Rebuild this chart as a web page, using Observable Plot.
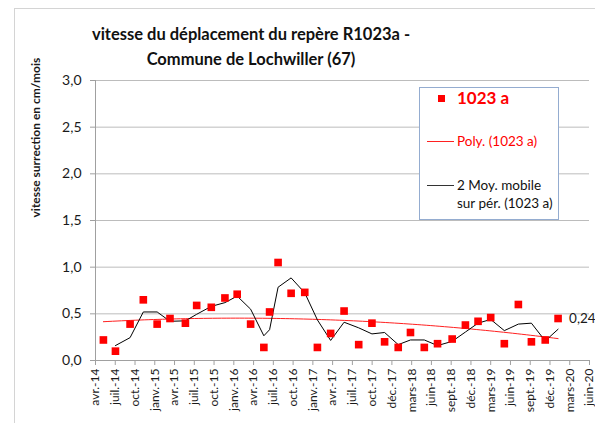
<!DOCTYPE html>
<html>
<head>
<meta charset="utf-8">
<script src="https://cdn.jsdelivr.net/npm/d3@7"></script>
<script src="https://cdn.jsdelivr.net/npm/@observablehq/plot@0.6"></script>
<style>
  html, body { margin: 0; padding: 0; background: #fff; }
  #wrap { position: relative; width: 595px; height: 423px; overflow: hidden; font-family: Lato, "Open Sans", sans-serif; }
  #frame { position: absolute; left: 14px; top: 8px; width: 640px; height: 460px; border: 1px solid #d4d4d4; }
  #chart { position: absolute; left: 0; top: 0; }
  #title { position: absolute; left: 51px; width: 400px; top: 22px; text-align: center; font-weight: bold; font-size: 16.5px; line-height: 25px; color: #111; }
  #legend { position: absolute; left: 419px; top: 87px; width: 138px; height: 131px; border: 1px solid #94acd0; background: #fff; }
  .lg { position: absolute; white-space: nowrap; }
</style>
</head>
<body>
<div id="wrap">
  <div id="frame"></div>
  <div id="chart"></div>
  <div id="title">vitesse du déplacement du repère R1023a -<br>Commune de Lochwiller (67)</div>
  <div id="legend"></div>
</div>
<script>
// Tick labels of the x axis (one per quarter-step tick)
const tickLabels = ["avr.-14","juil.-14","oct.-14","janv.-15","avr.-15","juil.-15","oct.-15","janv.-16","avr.-16","juil.-16","oct.-16","janv.-17","avr.-17","juil.-17","oct.-17","déc.-17","mars-18","juin-18","sept.-18","déc.-18","mars-19","juin-19","sept.-19","déc.-19","mars-20","juin-20"];
// Measurement positions, in tick steps from "avr.-14"
const measureT = [0.40,1.01,1.75,2.42,3.12,3.77,4.55,5.12,5.86,6.55,7.17,7.85,8.52,8.81,9.24,9.90,10.59,11.23,11.90,12.58,13.32,13.99,14.63,15.32,15.94,16.64,17.31,18.05,18.72,19.36,20.00,20.69,21.40,22.06,22.76,23.41];
// Velocity (cm/mois), series "1023 a"
const velocity = [0.22,0.10,0.39,0.65,0.39,0.45,0.40,0.59,0.57,0.67,0.71,0.39,0.14,0.52,1.05,0.72,0.73,0.14,0.29,0.53,0.17,0.40,0.20,0.14,0.30,0.14,0.18,0.23,0.38,0.42,0.46,0.18,0.60,0.20,0.22,0.45];
const yTicks = [0, 0.5, 1, 1.5, 2, 2.5, 3];
const endLabel = "0,24";
const yLabel = "vitesse surrection en cm/mois";
const seriesName = "1023 a";

const data = measureT.map((t, i) => ({t, v: velocity[i]}));

// order-2 polynomial least-squares trend (as in Excel "Poly.")
function polyfit(xs, ys, deg) {
  const n = deg + 1;
  const A = Array.from({length: n}, () => new Array(n + 1).fill(0));
  for (let k = 0; k < xs.length; k++) {
    for (let i = 0; i < n; i++) {
      for (let j = 0; j < n; j++) A[i][j] += Math.pow(xs[k], i + j);
      A[i][n] += ys[k] * Math.pow(xs[k], i);
    }
  }
  for (let i = 0; i < n; i++) {
    let p = i;
    for (let r = i + 1; r < n; r++) if (Math.abs(A[r][i]) > Math.abs(A[p][i])) p = r;
    [A[i], A[p]] = [A[p], A[i]];
    for (let r = 0; r < n; r++) if (r !== i) {
      const f = A[r][i] / A[i][i];
      for (let c = i; c <= n; c++) A[r][c] -= f * A[i][c];
    }
  }
  return A.map((row, i) => row[n] / row[i]);
}
const coef = polyfit(measureT, velocity, 2);
const t0 = measureT[0], t1 = measureT[measureT.length - 1];
const trend = d3.range(0, 101).map(i => {
  const t = t0 + (t1 - t0) * i / 100;
  return {t, v: coef.reduce((s, c, k) => s + c * Math.pow(t, k), 0)};
});

const fmt = d => d.toFixed(1).replace(".", ",");

const chart = Plot.plot({
  width: 595,
  height: 423,
  marginTop: 80,
  marginBottom: 63,
  marginLeft: 95,
  marginRight: 6,
  style: {fontFamily: "Lato, 'Open Sans', sans-serif", color: "#1a1a1a", background: "transparent"},
  x: {domain: [0, tickLabels.length - 1]},
  y: {domain: [0, 3]},
  marks: [
    Plot.gridY(yTicks.slice(1), {stroke: "#bcbcbc", strokeOpacity: 1}),
    Plot.axisY({ticks: yTicks, tickFormat: fmt, tickSize: 5, tickPadding: 9, stroke: "#a0a0a0", fontSize: 14, label: null}),
    Plot.axisX({ticks: d3.range(tickLabels.length), tickFormat: i => tickLabels[i], tickRotate: -90, tickSize: 5, tickPadding: 3, stroke: "#a0a0a0", fontSize: 12, label: null}),
    Plot.ruleY([0], {stroke: "#a0a0a0"}),
    Plot.ruleX([0], {stroke: "#a0a0a0"}),
    Plot.line(trend, {x: "t", y: "v", stroke: "#ff2020", strokeWidth: 1}),
    Plot.lineY(data, Plot.windowY({k: 2, anchor: "end", strict: true}, {x: "t", y: "v", stroke: "#000", strokeWidth: 1})),
    Plot.dot(data, {x: "t", y: "v", symbol: "square", r: 4.3, fill: "#ff0000", stroke: "none"}),
    Plot.text([data[data.length - 1]], {x: "t", y: "v", text: () => endLabel, dx: 11, textAnchor: "start", fontSize: 13.5, fill: "#1a1a1a"}),
    Plot.text([yLabel], {frameAnchor: "left", text: d => d, rotate: -90, dx: -59, dy: -3, fontWeight: "bold", fontSize: 12, fill: "#1a1a1a"})
  ]
});
document.getElementById("chart").appendChild(chart);

// legend
const lg = document.getElementById("legend");
lg.innerHTML = `
  <div style="position:absolute;left:18px;top:7px;width:7px;height:7px;background:#ff0000"></div>
  <div class="lg" style="left:37px;top:-1px;font-size:17px;font-weight:bold;color:#ff0000">${seriesName}</div>
  <div style="position:absolute;left:7px;top:53px;width:27px;height:1px;background:#ff2020"></div>
  <div class="lg" style="left:37px;top:45px;font-size:13.5px;color:#ff0000">Poly. (${seriesName})</div>
  <div style="position:absolute;left:7px;top:97px;width:27px;height:1px;background:#333"></div>
  <div class="lg" style="left:37px;top:88px;font-size:13.5px;color:#111;line-height:18px">2 Moy. mobile<br>sur pér. (${seriesName})</div>
`;
</script>
</body>
</html>
